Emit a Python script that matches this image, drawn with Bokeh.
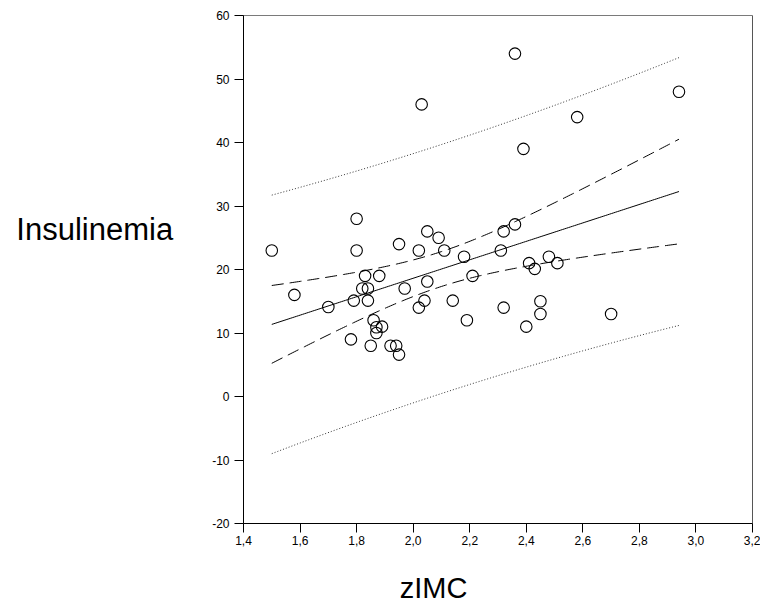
import numpy as np
from bokeh.plotting import figure
from bokeh.models import Range1d, FixedTicker, CustomJSTickFormatter, Span, ColumnDataSource
from bokeh.embed import file_html
from bokeh.resources import INLINE

# ---- data ----
zimc = [1.50, 1.58, 1.70, 1.78, 1.79, 1.80, 1.80, 1.83, 1.88, 1.82,
        1.84, 1.84, 1.86, 1.89, 1.87, 1.87, 1.85, 1.92, 1.94, 1.95,
        1.95, 1.97, 2.02, 2.05, 2.09, 2.11, 2.18, 2.21, 2.05, 2.04,
        2.02, 2.14, 2.19, 2.32, 2.36, 2.31, 2.41, 2.43, 2.48, 2.51,
        2.32, 2.45, 2.45, 2.40, 2.70, 2.36, 2.03, 2.58, 2.39, 2.94]
insulinemia = [23.0, 16.0, 14.1, 9.0, 15.1, 28.0, 23.0, 19.0, 19.0, 17.0,
               17.0, 15.1, 12.0, 11.0, 10.9, 10.0, 8.0, 8.0, 8.0, 6.6,
               24.0, 17.0, 23.0, 26.0, 25.0, 23.0, 22.0, 19.0, 18.1, 15.1,
               14.0, 15.1, 12.0, 26.0, 27.1, 23.0, 21.0, 20.1, 22.0, 21.0,
               14.0, 15.0, 13.0, 11.0, 13.0, 54.0, 46.0, 44.0, 39.0, 48.0]
x_ticks = [1.4, 1.6, 1.8, 2.0, 2.2, 2.4, 2.6, 2.8, 3.0, 3.2]
y_ticks = [-20, -10, 0, 10, 20, 30, 40, 50, 60]

# ---- linear fit with 95% confidence (mean) and prediction intervals ----
x = np.array(zimc)
y = np.array(insulinemia)
n = len(x)
b1, b0 = np.polyfit(x, y, 1)
grid = np.linspace(x.min(), x.max(), 200)
fit = b0 + b1 * grid
s = np.sqrt(np.sum((y - (b0 + b1 * x)) ** 2) / (n - 2))
sxx = np.sum((x - x.mean()) ** 2)
t_crit = 2.0106
se_mean = s * np.sqrt(1.0 / n + (grid - x.mean()) ** 2 / sxx)
se_pred = s * np.sqrt(1.0 + 1.0 / n + (grid - x.mean()) ** 2 / sxx)

curves = ColumnDataSource(dict(
    gx=grid, fit=fit,
    cl=fit - t_crit * se_mean, cu=fit + t_crit * se_mean,
    pl=fit - t_crit * se_pred, pu=fit + t_crit * se_pred,
))
pts = ColumnDataSource(dict(x=zimc, y=insulinemia))

p = figure(width=760, height=607, output_backend="svg", toolbar_location=None,
           x_range=Range1d(1.4, 3.2), y_range=Range1d(-20, 60),
           min_border_left=243, min_border_right=8, min_border_top=15, min_border_bottom=84)
p.xgrid.visible = False
p.ygrid.visible = False
p.outline_line_color = "#7a7a7a"
p.outline_line_width = 1
p.background_fill_color = "white"
p.border_fill_color = "white"

for ax in (p.xaxis[0], p.yaxis[0]):
    ax.axis_line_color = "black"
    ax.major_tick_line_color = "black"
    ax.major_tick_in = 0
    ax.major_tick_out = 9
    ax.minor_tick_line_color = None
    ax.major_label_text_font = "Liberation Sans"
    ax.major_label_text_font_size = "12px"
    ax.major_label_text_color = "black"
    ax.axis_label_text_font = "Liberation Sans"
    ax.axis_label_text_font_style = "normal"
    ax.axis_label_text_color = "black"

p.xaxis[0].ticker = FixedTicker(ticks=x_ticks)
p.yaxis[0].ticker = FixedTicker(ticks=y_ticks)
p.xaxis[0].formatter = CustomJSTickFormatter(code="return tick.toFixed(1).replace('.', ',');")
p.yaxis[0].formatter = CustomJSTickFormatter(code="return tick.toFixed(0);")
p.xaxis[0].major_label_standoff = 3
p.yaxis[0].major_label_standoff = 5

# y-axis title: horizontal, shifted upward by trailing empty lines
p.yaxis[0].axis_label = "Insulinemia\n\u00a0\n\u00a0"
p.yaxis[0].axis_label_orientation = "horizontal"
p.yaxis[0].axis_label_text_font_size = "31px"
p.yaxis[0].axis_label_text_line_height = 1.15
p.yaxis[0].axis_label_standoff = 36

# x-axis title: shifted left of centre by trailing non-breaking spaces
p.xaxis[0].axis_label = "zIMC" + "\u00a0" * 16
p.xaxis[0].axis_label_text_font_size = "29px"
p.xaxis[0].axis_label_standoff = 24

p.add_layout(Span(location=3.2, dimension="height", line_color="#333333", line_width=1))

# curves
p.line("gx", "fit", source=curves, line_color="black", line_width=1)
p.line("gx", "cl", source=curves, line_color="black", line_width=1, line_dash="12 6")
p.line("gx", "cu", source=curves, line_color="black", line_width=1, line_dash="12 6")
p.line("gx", "pl", source=curves, line_color="#333333", line_width=1, line_dash="1 2")
p.line("gx", "pu", source=curves, line_color="#333333", line_width=1, line_dash="1 2")

# points
p.scatter("x", "y", source=pts, marker="circle", size=11.5, fill_color=None,
          line_color="black", line_width=1.1)

open("out.html", "w").write(file_html(p, INLINE))
